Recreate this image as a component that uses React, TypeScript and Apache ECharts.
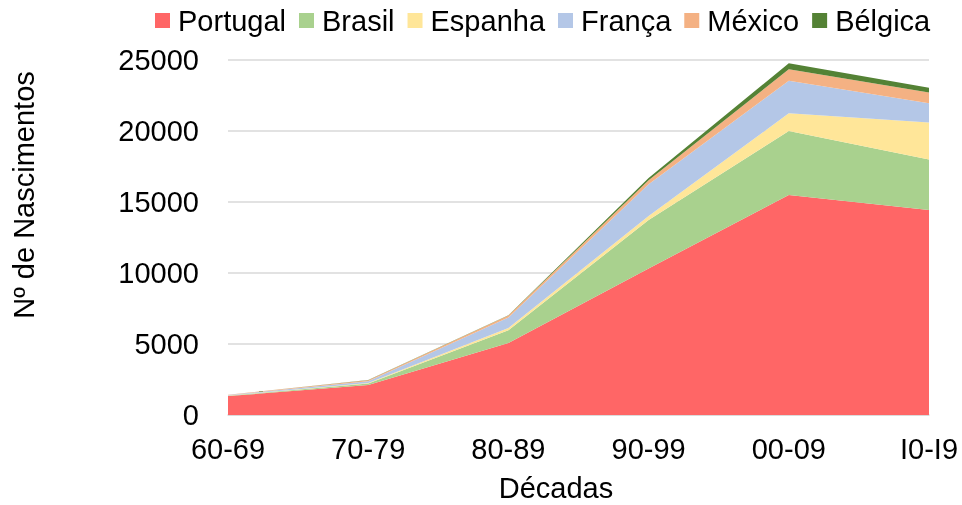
import React, { useEffect, useRef } from "react";
import * as echarts from "echarts";

const categories = ["60-69", "70-79", "80-89", "90-99", "00-09", "I0-I9"];
const portugal = [1330, 2110, 5070, 10320, 15490, 14440];
const brasil = [20, 110, 900, 3410, 4510, 3560];
const espanha = [20, 30, 150, 285, 1245, 2590];
const franca = [30, 120, 750, 2235, 2300, 1360];
const mexico = [25, 80, 130, 280, 800, 770];
const belgica = [5, 10, 20, 160, 420, 330];
const yTicks = [0, 5000, 10000, 15000, 20000, 25000];

const seriesDefs = [
  { name: "Portugal", data: portugal, color: "#FF6666" },
  { name: "Brasil", data: brasil, color: "#A9D18E" },
  { name: "Espanha", data: espanha, color: "#FFE699" },
  { name: "França", data: franca, color: "#B4C7E7" },
  { name: "México", data: mexico, color: "#F4B183" },
  { name: "Bélgica", data: belgica, color: "#548235" },
];

const FONT = "'Liberation Sans', Arial, sans-serif";
const FS = 29;

export default function App() {
  const ref = useRef<HTMLDivElement>(null);
  useEffect(() => {
    if (!ref.current) return;
    const chart = echarts.init(ref.current, undefined, { renderer: "svg" });
    chart.setOption({
      animation: false,
      textStyle: { fontFamily: FONT },
      legend: {
        left: 150,
        top: 1,
        icon: "rect",
        itemWidth: 15,
        itemHeight: 15,
        itemGap: 13,
        textStyle: { fontSize: FS, color: "#000", fontFamily: FONT, padding: [0, 0, 0, 3] },
        data: seriesDefs.map((s) => s.name),
      },
      grid: { left: 228, right: 33, top: 60, bottom: 90, containLabel: false },
      xAxis: {
        type: "category",
        boundaryGap: false,
        data: categories,
        axisLine: { lineStyle: { color: "#D9D9D9", width: 1.5 } },
        axisTick: { show: false },
        axisLabel: { fontSize: FS, color: "#000", margin: 19, fontFamily: FONT },
        splitLine: { show: false },
      },
      yAxis: {
        type: "value",
        min: yTicks[0],
        max: yTicks[yTicks.length - 1],
        interval: 5000,
        axisLine: { show: false },
        axisTick: { show: false },
        axisLabel: {
          fontSize: FS,
          color: "#000",
          margin: 29,
          fontFamily: FONT,
          formatter: (v: number) => String(v),
        },
        splitLine: { lineStyle: { color: "#D9D9D9", width: 1.5 } },
      },
      graphic: [
        {
          type: "text",
          x: 24,
          y: 195,
          rotation: Math.PI / 2,
          style: {
            text: "Nº de Nascimentos",
            font: `${FS}px ${FONT}`,
            fill: "#000",
            align: "center",
            verticalAlign: "middle",
          },
        },
        {
          type: "text",
          x: 556,
          y: 488,
          style: {
            text: "Décadas",
            font: `${FS}px ${FONT}`,
            fill: "#000",
            align: "center",
            verticalAlign: "middle",
          },
        },
      ],
      series: seriesDefs.map((s) => ({
        name: s.name,
        type: "line",
        stack: "total",
        data: s.data,
        symbol: "none",
        showSymbol: false,
        lineStyle: { width: 0, color: s.color },
        itemStyle: { color: s.color },
        areaStyle: { color: s.color, opacity: 1 },
        emphasis: { disabled: true },
      })),
    });
    return () => chart.dispose();
  }, []);
  return (
    <div
      ref={ref}
      style={{ position: "fixed", left: 0, top: 0, width: 962, height: 505 }}
    />
  );
}
